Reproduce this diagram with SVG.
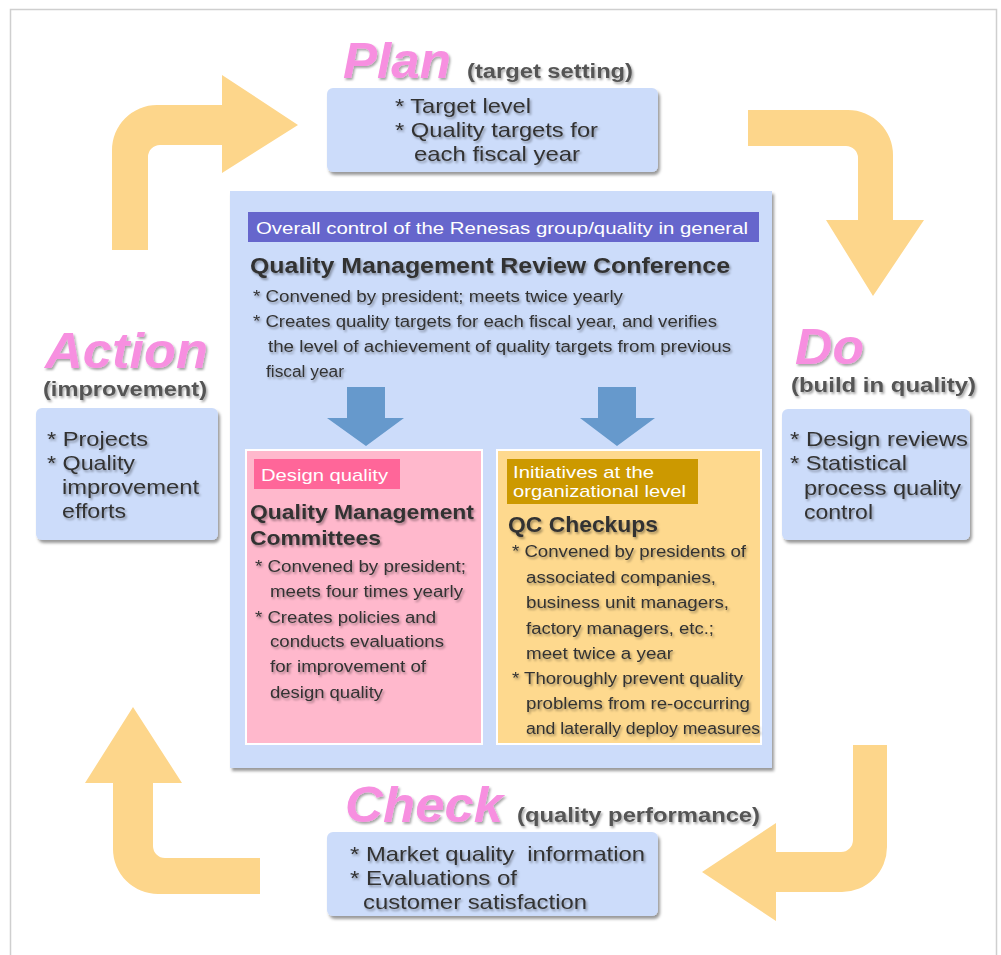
<svg xmlns="http://www.w3.org/2000/svg" width="1001" height="955" viewBox="0 0 1001 955">
<style>
text{font-family:"Liberation Sans",Arial,sans-serif;}
.box{fill:#ccdcfa;}
.t{fill:#333;}
.b{font-weight:bold;}
.big{font-size:50px;font-weight:bold;font-style:italic;fill:#f78fe0;}
.sub{font-size:20px;font-weight:bold;fill:#555;}
.it{font-size:21px;fill:#333;}
.s16{font-size:16px;fill:#333;}
.hdr{font-size:17px;fill:#fff;}
.oa{fill:#fdd68b;}
.ba{fill:#6699cc;}
</style>
<defs>
<filter id="sh" x="-10%" y="-10%" width="130%" height="130%">
<feDropShadow dx="2" dy="3" stdDeviation="1.5" flood-color="#000" flood-opacity="0.4"/>
</filter>
<filter id="ts" x="-10%" y="-30%" width="130%" height="180%">
<feDropShadow dx="1.5" dy="2" stdDeviation="1.2" flood-color="#000" flood-opacity="0.35"/>
</filter>
</defs>
<rect x="0" y="0" width="1001" height="955" fill="#fff"/>
<rect x="10.5" y="9.5" width="986" height="960" fill="none" stroke="#cfcfcf" stroke-width="1.5"/>

<g id="connectors">
<path class="oa" d="M112,250 V150 A45,45 0 0 1 157,105 H222 V75 L298,125 L222,173 V145 H160 A12,12 0 0 0 148,157 V250 Z"/>
<path class="oa" d="M748,110 H848 A45,45 0 0 1 893,155 V220 H924 L873,296 L826,220 H858 V158 A12,12 0 0 0 846,146 H748 Z"/>
<path class="oa" d="M853,745 H887 V847 A45,45 0 0 1 842,892 H776 V921 L702,872 L776,823 V852 H841 A12,12 0 0 0 853,840 Z"/>
<path class="oa" d="M260,858 V894 H158 A45,45 0 0 1 113,849 V783 H85 L133,707 L182,783 H153 V846 A12,12 0 0 0 165,858 Z"/>
</g>

<g id="plan">
<text class="big" x="343" y="78" textLength="108" lengthAdjust="spacingAndGlyphs" filter="url(#ts)">Plan</text>
<text class="sub" x="467" y="78" textLength="166" lengthAdjust="spacingAndGlyphs" filter="url(#ts)">(target setting)</text>
<rect class="box" x="327" y="88" width="331" height="84" rx="6" filter="url(#sh)"/>
<g filter="url(#ts)">
<text class="it" x="395" y="113" textLength="136" lengthAdjust="spacingAndGlyphs">* Target level</text>
<text class="it" x="395" y="137" textLength="203" lengthAdjust="spacingAndGlyphs">* Quality targets for</text>
<text class="it" x="414" y="161" textLength="166" lengthAdjust="spacingAndGlyphs">each fiscal year</text>
</g>
</g>

<g id="review">
<rect class="box" x="230" y="191" width="542" height="577" filter="url(#sh)"/>
<rect x="248" y="212" width="511" height="30" fill="#6666cc"/>
<text class="hdr" x="256" y="234" textLength="492" lengthAdjust="spacingAndGlyphs">Overall control of the Renesas group/quality in general</text>
<g filter="url(#ts)">
<text class="t b" x="250" y="273" font-size="22" textLength="480" lengthAdjust="spacingAndGlyphs">Quality Management Review Conference</text>
<text class="s16" x="253" y="302" textLength="370" lengthAdjust="spacingAndGlyphs">* Convened by president; meets twice yearly</text>
<text class="s16" x="253" y="327" textLength="464" lengthAdjust="spacingAndGlyphs">* Creates quality targets for each fiscal year, and verifies</text>
<text class="s16" x="268" y="352" textLength="463" lengthAdjust="spacingAndGlyphs">the level of achievement of quality targets from previous</text>
<text class="s16" x="266" y="377" textLength="78" lengthAdjust="spacingAndGlyphs">fiscal year</text>
</g>
<path class="ba" d="M347,387 H385 V418 H404 L366,446 L327,418 H347 Z"/>
<path class="ba" d="M598,387 H636 V418 H655 L617,446 L580,418 H598 Z"/>
</g>

<g id="design">
<rect x="246" y="450" width="236" height="294" fill="#ffb8cc" stroke="#fff" stroke-width="2"/>
<rect x="254" y="459" width="146" height="30" fill="#ff6699"/>
<text class="hdr" x="261" y="481" textLength="127" lengthAdjust="spacingAndGlyphs">Design quality</text>
<g filter="url(#ts)">
<text class="t b" x="250" y="519" font-size="21" textLength="224" lengthAdjust="spacingAndGlyphs">Quality Management</text>
<text class="t b" x="250" y="545" font-size="21" textLength="131" lengthAdjust="spacingAndGlyphs">Committees</text>
<text class="s16" x="255" y="572" textLength="211" lengthAdjust="spacingAndGlyphs">* Convened by president;</text>
<text class="s16" x="270" y="597" textLength="193" lengthAdjust="spacingAndGlyphs">meets four times yearly</text>
<text class="s16" x="255" y="623" textLength="181" lengthAdjust="spacingAndGlyphs">* Creates policies and</text>
<text class="s16" x="270" y="647" textLength="174" lengthAdjust="spacingAndGlyphs">conducts evaluations</text>
<text class="s16" x="270" y="672" textLength="156" lengthAdjust="spacingAndGlyphs">for improvement of</text>
<text class="s16" x="270" y="698" textLength="113" lengthAdjust="spacingAndGlyphs">design quality</text>
</g>
</g>

<g id="qc">
<rect x="497" y="450" width="264" height="294" fill="#fed98e" stroke="#fff" stroke-width="2"/>
<rect x="507" y="459" width="191" height="45" fill="#cc9900"/>
<text class="hdr" x="513" y="478" textLength="141" lengthAdjust="spacingAndGlyphs">Initiatives at the</text>
<text class="hdr" x="513" y="497" textLength="173" lengthAdjust="spacingAndGlyphs">organizational level</text>
<g filter="url(#ts)">
<text class="t b" x="508" y="532" font-size="22" textLength="150" lengthAdjust="spacingAndGlyphs">QC Checkups</text>
<text class="s16" x="512" y="557" textLength="234" lengthAdjust="spacingAndGlyphs">* Convened by presidents of</text>
<text class="s16" x="526" y="583" textLength="190" lengthAdjust="spacingAndGlyphs">associated companies,</text>
<text class="s16" x="526" y="608" textLength="203" lengthAdjust="spacingAndGlyphs">business unit managers,</text>
<text class="s16" x="526" y="634" textLength="188" lengthAdjust="spacingAndGlyphs">factory managers, etc.;</text>
<text class="s16" x="526" y="659" textLength="147" lengthAdjust="spacingAndGlyphs">meet twice a year</text>
<text class="s16" x="512" y="684" textLength="231" lengthAdjust="spacingAndGlyphs">* Thoroughly prevent quality</text>
<text class="s16" x="526" y="709" textLength="224" lengthAdjust="spacingAndGlyphs">problems from re-occurring</text>
<text class="s16" x="526" y="734" textLength="234" lengthAdjust="spacingAndGlyphs">and laterally deploy measures</text>
</g>
</g>

<g id="action">
<text class="big" x="45" y="368" font-size="44" textLength="163" lengthAdjust="spacingAndGlyphs" filter="url(#ts)">Action</text>
<text class="sub" x="43" y="396" font-size="19" textLength="164" lengthAdjust="spacingAndGlyphs" filter="url(#ts)">(improvement)</text>
<rect class="box" x="36" y="408" width="182" height="132" rx="6" filter="url(#sh)"/>
<g filter="url(#ts)">
<text class="it" x="47" y="446" textLength="101" lengthAdjust="spacingAndGlyphs">* Projects</text>
<text class="it" x="47" y="470" textLength="88" lengthAdjust="spacingAndGlyphs">* Quality</text>
<text class="it" x="62" y="494" textLength="137" lengthAdjust="spacingAndGlyphs">improvement</text>
<text class="it" x="62" y="518" textLength="64" lengthAdjust="spacingAndGlyphs">efforts</text>
</g>
</g>

<g id="do">
<text class="big" x="795" y="364" font-size="46" textLength="69" lengthAdjust="spacingAndGlyphs" filter="url(#ts)">Do</text>
<text class="sub" x="791" y="392" font-size="19" textLength="185" lengthAdjust="spacingAndGlyphs" filter="url(#ts)">(build in quality)</text>
<rect class="box" x="782" y="409" width="188" height="131" rx="6" filter="url(#sh)"/>
<g filter="url(#ts)">
<text class="it" x="790" y="446" textLength="178" lengthAdjust="spacingAndGlyphs">* Design reviews</text>
<text class="it" x="790" y="470" textLength="117" lengthAdjust="spacingAndGlyphs">* Statistical</text>
<text class="it" x="804" y="495" textLength="157" lengthAdjust="spacingAndGlyphs">process quality</text>
<text class="it" x="804" y="519" textLength="69" lengthAdjust="spacingAndGlyphs">control</text>
</g>
</g>

<g id="check">
<text class="big" x="345" y="822" textLength="158" lengthAdjust="spacingAndGlyphs" filter="url(#ts)">Check</text>
<text class="sub" x="517" y="822" textLength="243" lengthAdjust="spacingAndGlyphs" filter="url(#ts)">(quality performance)</text>
<rect class="box" x="327" y="832" width="331" height="84" rx="6" filter="url(#sh)"/>
<g filter="url(#ts)">
<text class="it" x="350" y="861" textLength="295" lengthAdjust="spacingAndGlyphs">* Market quality&#160; information</text>
<text class="it" x="350" y="885" textLength="167" lengthAdjust="spacingAndGlyphs">* Evaluations of</text>
<text class="it" x="363" y="909" textLength="224" lengthAdjust="spacingAndGlyphs">customer satisfaction</text>
</g>
</g>
</svg>
